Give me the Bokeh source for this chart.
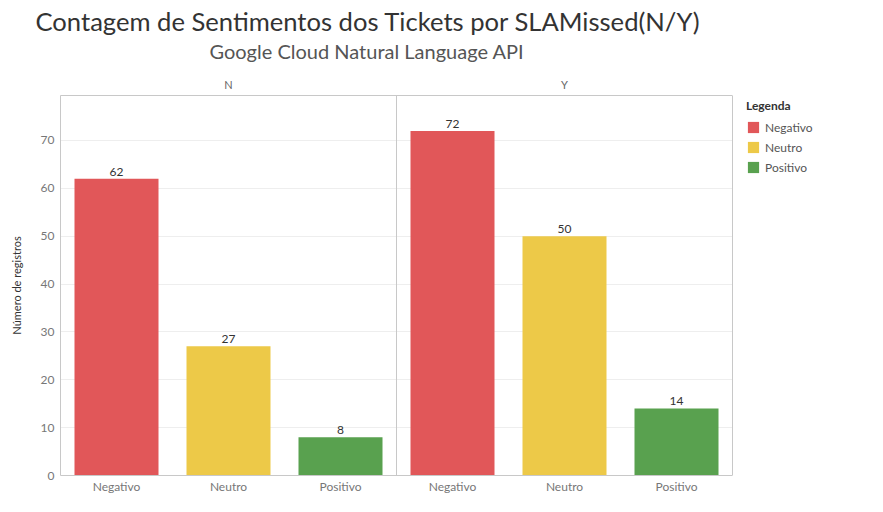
from bokeh.plotting import figure
from bokeh.models import (ColumnDataSource, LabelSet, LinearAxis, Span, Title,
                          FixedTicker, Range1d, Legend, LegendItem, BoxAnnotation)
from bokeh.transform import factor_cmap
from bokeh.core.properties import value
from bokeh.embed import file_html
from bokeh.resources import INLINE

# ---- data ----
groups = ["N", "Y"]
sentiments = ["Negativo", "Neutro", "Positivo"]
counts_N = [62, 27, 8]
counts_Y = [72, 50, 14]
colors = ["#E15759", "#EDC948", "#59A14F"]
y_ticks = [0, 10, 20, 30, 40, 50, 60, 70]

title_text = "Contagem de Sentimentos dos Tickets por SLAMissed(N/Y)"
subtitle_text = "Google Cloud Natural Language API"
y_label = "Número de registros"
legend_title = "Legenda"

FONT = "Lato"
LINE = "#c8c8c8"

# ---- layout constants (pixels) ----
W, H = 867, 496
LEFT, TOP, BOTTOM = 60, 95, 18
PANEL_PX = 336            # width of one facet panel
n_s = len(sentiments)
n_cells = len(groups) * n_s
frame_px = W - LEFT       # frame runs to the right edge (legend lives inside it)
x_end = n_cells * frame_px / (2 * PANEL_PX)

# positions of every bar along the x scale (one unit per category cell)
xs = [gi * n_s + si + 0.5 for gi in range(len(groups)) for si in range(n_s)]
counts = counts_N + counts_Y
sent = sentiments * len(groups)
source = ColumnDataSource(dict(x=xs, counts=counts, sentiment=sent,
                               label=[str(c) for c in counts]))

p = figure(width=W, height=H,
           x_range=Range1d(0, x_end), y_range=Range1d(0, 79.4),
           output_backend="svg", toolbar_location=None, title=None,
           min_border_left=LEFT, min_border_right=0, min_border_top=TOP,
           min_border_bottom=BOTTOM)
p.background_fill_color = "white"
p.border_fill_color = "white"
p.outline_line_color = None

# grid lines only inside the facet panels
p.xgrid.grid_line_color = None
p.ygrid.grid_line_color = "#eeeeee"
p.ygrid.ticker = FixedTicker(ticks=y_ticks[1:])
p.add_layout(BoxAnnotation(left=n_cells, fill_color="white", fill_alpha=1,
                           line_color=None, level="underlay"))

bars = p.vbar(x="x", top="counts", width=0.75, source=source,
              fill_color=factor_cmap("sentiment", colors, sentiments),
              line_color=None)

labels = LabelSet(x="x", y="counts", text="label", source=source,
                  text_align="center", text_baseline="bottom", y_offset=3,
                  text_font=value(FONT), text_font_size="12px", text_color="#333333")
p.add_layout(labels)

# facet dividers
for gi in range(1, len(groups) + 1):
    p.add_layout(Span(location=gi * n_s, dimension="height",
                      line_color=LINE, line_width=1))

# y axis
yax = p.yaxis[0]
yax.ticker = FixedTicker(ticks=y_ticks)
yax.axis_label = y_label
yax.axis_label_text_font = FONT
yax.axis_label_text_font_size = "11px"
yax.axis_label_text_font_style = "normal"
yax.axis_label_text_color = "#333333"
yax.axis_label_standoff = 15
yax.major_label_text_font = FONT
yax.major_label_text_font_size = "12px"
yax.major_label_text_color = "#777777"
yax.major_label_standoff = 6
yax.major_tick_line_color = None
yax.major_tick_out = 0
yax.major_tick_in = 0
yax.minor_tick_line_color = None
yax.axis_line_color = LINE

# x axis (bottom): sentiment names
xax = p.xaxis[0]
xax.ticker = FixedTicker(ticks=xs, minor_ticks=[])
xax.major_label_overrides = {x: s for x, s in zip(xs, sent)}
xax.bounds = (0, n_cells)
xax.major_label_text_font = FONT
xax.major_label_text_font_size = "12px"
xax.major_label_text_color = "#777777"
xax.major_label_standoff = 3
xax.major_tick_line_color = None
xax.minor_tick_line_color = None
xax.major_tick_out = 0
xax.major_tick_in = 0
xax.axis_line_color = LINE

# panel headers (above)
g_centers = [gi * n_s + n_s / 2 for gi in range(len(groups))]
hdr = LinearAxis(ticker=FixedTicker(ticks=g_centers, minor_ticks=[]),
                 major_label_overrides={c: g for c, g in zip(g_centers, groups)},
                 bounds=(0, n_cells))
hdr.major_label_text_font = FONT
hdr.major_label_text_font_size = "11px"
hdr.major_label_text_color = "#666666"
hdr.major_label_standoff = 5
hdr.major_tick_line_color = None
hdr.minor_tick_line_color = None
hdr.major_tick_out = 0
hdr.major_tick_in = 0
hdr.axis_line_color = LINE
p.add_layout(hdr, "above")

p.add_layout(Title(text=subtitle_text, align="left", offset=149,
                   text_font=FONT, text_font_size="20px", text_font_style="normal",
                   text_color="#555555", standoff=24), "above")
p.add_layout(Title(text=title_text, align="left", offset=-25,
                   text_font=FONT, text_font_size="25.6px", text_font_style="normal",
                   text_color="#333333", standoff=-22), "above")

# legend (inside the frame, right of the facets)
lg = Legend(items=[LegendItem(label=s, renderers=[bars], index=i)
                   for i, s in enumerate(sentiments)],
            location=(686, 298))
lg.title = legend_title
lg.title_text_font = FONT
lg.title_text_font_size = "12px"
lg.title_text_font_style = "bold"
lg.title_text_color = "#333333"
lg.title_standoff = 4
lg.label_text_font = FONT
lg.label_text_font_size = "12px"
lg.label_text_color = "#555555"
lg.glyph_width = 14
lg.glyph_height = 14
lg.label_height = 20
lg.spacing = 0
lg.padding = 0
lg.margin = 0
lg.label_standoff = 5
lg.border_line_color = None
lg.background_fill_alpha = 0
p.add_layout(lg)

open("out.html", "w").write(file_html(p, INLINE))
